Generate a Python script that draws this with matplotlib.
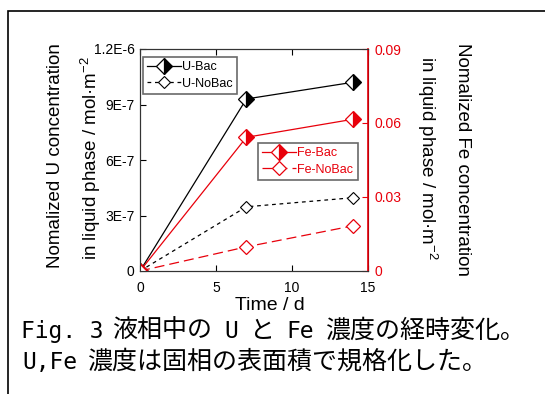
import matplotlib.pyplot as plt
from matplotlib.patches import Rectangle

plt.rcParams['font.family'] = ['Liberation Sans', 'DejaVu Sans']
plt.rcParams['mathtext.default'] = 'regular'

days = [0, 7, 14]
u_bac = [0, 9.3e-7, 1.02e-6]
u_nobac = [0, 3.47e-7, 3.96e-7]
fe_bac = [0, 0.0542, 0.0615]
fe_nobac = [0, 0.0098, 0.0183]

x_ticks = [0, 5, 10, 15]
u_ticks = [0, 3e-7, 6e-7, 9e-7, 1.2e-6]
u_tick_labels = ['0', '3E-7', '6E-7', '9E-7', '1.2E-6']
fe_ticks = [0, 0.03, 0.06, 0.09]
fe_tick_labels = ['0', '0.03', '0.06', '0.09']

caption_lines = ['Fig. 3 液相中の U と Fe 濃度の経時変化。',
                 'U,Fe 濃度は固相の表面積で規格化した。']

red = '#e8000b'
W, H = 545.0, 394.0

fig = plt.figure(figsize=(5.45, 3.94), dpi=100)
# outer frame (runs off the right and bottom edges)
fig.patches.append(Rectangle((8 / W, -0.1), 1.2, 1 - 11 / H + 0.1, transform=fig.transFigure,
                             fill=False, edgecolor='black', linewidth=1.2))

ax = fig.add_axes([140 / W, 1 - 271 / H, 228 / W, 222 / H])
ax2 = ax.twinx()

ax.plot(days, u_bac, color='black', linewidth=0.9, marker='D', markersize=8,
        fillstyle='right', markerfacecolor='black', markerfacecoloralt='white',
        markeredgecolor='black', markeredgewidth=0.9, label='U-Bac', zorder=3)
ax.plot(days, u_nobac, color='black', linewidth=0.9, linestyle=(0, (3, 3)), marker='D',
        markersize=6, markerfacecolor='white', markeredgecolor='black',
        markeredgewidth=0.8, label='U-NoBac', zorder=3)
ax2.plot(days, fe_bac, color=red, linewidth=0.9, marker='D', markersize=8,
         fillstyle='right', markerfacecolor=red, markerfacecoloralt='white',
         markeredgecolor=red, markeredgewidth=0.9, label='Fe-Bac')
ax2.plot(days, fe_nobac, color=red, linewidth=0.9, linestyle=(0, (8, 4)), marker='D',
         markersize=7, markerfacecolor='white', markeredgecolor=red,
         markeredgewidth=0.9, label='Fe-NoBac')

ax.set_xlim(0, 15)
ax.set_ylim(0, 1.2e-6)
ax2.set_ylim(0, 0.09)
ax.set_xticks(x_ticks)
ax.set_yticks(u_ticks)
ax.set_yticklabels(u_tick_labels)
ax2.set_yticks(fe_ticks)
ax2.set_yticklabels(fe_tick_labels)

ax.tick_params(axis='x', direction='in', labelsize=10, length=4, top=True, pad=7)
ax.tick_params(axis='y', direction='in', labelsize=10, length=4, pad=4)
ax2.tick_params(axis='y', direction='in', labelsize=10, length=4, colors=red, pad=5)
for s in ['left', 'bottom', 'top']:
    ax.spines[s].set_color('#333333')
    ax2.spines[s].set_color('#333333')
ax2.spines['right'].set_color(red)
ax2.spines['right'].set_linewidth(1.2)

fig.text(270 / W, 1 - 305 / H, 'Time / d', ha='center', va='center', fontsize=14)

leg_kw = dict(bbox_transform=fig.transFigure, fontsize=9, frameon=True, fancybox=False,
              handlelength=2.7, handletextpad=0.1, borderpad=0.35,
              labelspacing=0.35, borderaxespad=0, loc='upper left')
leg1 = ax.legend(bbox_to_anchor=(143 / W, 1 - 57 / H), **leg_kw)
leg2 = ax2.legend(bbox_to_anchor=(258 / W, 1 - 143 / H), **leg_kw)
for leg in (leg1, leg2):
    leg.get_frame().set_edgecolor('#444444')
    leg.get_frame().set_linewidth(1.2)
for t in leg2.get_texts():
    t.set_color(red)

# axis titles, two lines each side
unit = 'in liquid phase / mol·m$^{-2}$'
fig.text(56 / W, 0.605, 'Nomalized U concentration', rotation=90, ha='center', va='center', fontsize=13.5)
fig.text(91 / W, 0.60, unit, rotation=90, ha='center', va='center', fontsize=13.5)
fig.text(462 / W, 0.595, 'Nomalized Fe concentration', rotation=270, ha='center', va='center', fontsize=13.5)
fig.text(427 / W, 0.60, unit, rotation=270, ha='center', va='center', fontsize=13.5)

# caption: latin in half-width cells, kana/kanji in full-width cells (gothic look)
cap_size = 18
em = cap_size * 100 / 72.0


def runs(line):
    out, cur, cur_wide = [], '', None
    for ch in line:
        wide = ord(ch) > 0x2000
        if cur and wide != cur_wide:
            out.append((cur, cur_wide))
            cur = ''
        cur += ch
        cur_wide = wide
    out.append((cur, cur_wide))
    return out


for line, base in zip(caption_lines, [338, 369]):
    x = 25.0
    for text, wide in runs(line):
        if wide:
            fig.text(x / W, 1 - base / H, text, fontsize=cap_size,
                     family='Noto Sans CJK JP', ha='left', va='baseline')
            x += em * len(text)
        else:
            word = text.strip()
            if word:
                lead = len(text) - len(text.lstrip())
                mid = x + (lead + len(word) / 2) * em / 2
                fig.text(mid / W, 1 - base / H, word, fontsize=16.5,
                         family='DejaVu Sans Mono', ha='center', va='baseline')
            x += em / 2 * len(text)

fig.savefig('out.png', dpi=100)
